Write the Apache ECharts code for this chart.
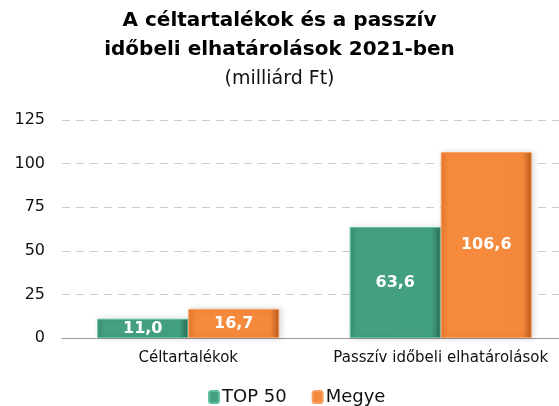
<!DOCTYPE html>
<html>
<head>
<meta charset="utf-8">
<script src="https://cdn.jsdelivr.net/npm/echarts@6/dist/echarts.min.js"></script>
<style>
html, body { margin: 0; padding: 0; background: #fff; }
#main { width: 559px; height: 406px; }
</style>
</head>
<body>
<div id="main"></div>
<script>
var categories = ['Céltartalékok', 'Passzív időbeli elhatárolások'];
var seriesNames = ['TOP 50', 'Megye'];
var top50 = [11.0, 63.6];
var megye = [16.7, 106.6];
var yTicks = [0, 25, 50, 75, 100, 125];

var font = 'DejaVu Sans';

function fmt(p) {
    return p.value.toFixed(1).replace('.', ',');
}

var chart = echarts.init(document.getElementById('main'));
var option = {
    backgroundColor: '#FFFFFF',
    title: {
        text: 'A céltartalékok és a passzív\nidőbeli elhatárolások 2021-ben',
        subtext: '(milliárd Ft)',
        left: 'center',
        top: 1,
        itemGap: 2,
        textStyle: {
            fontFamily: font,
            fontSize: 20,
            fontWeight: 'bold',
            color: '#000',
            lineHeight: 29
        },
        subtextStyle: {
            fontFamily: font,
            fontSize: 19,
            color: '#111',
            lineHeight: 26
        }
    },
    legend: {
        data: seriesNames,
        bottom: -5,
        left: 203,
        itemWidth: 10,
        itemHeight: 12,
        itemGap: 25,
        textStyle: { fontFamily: font, fontSize: 18, color: '#111', padding: [0, 0, 0, -2] }
    },
    grid: {
        left: 62,
        width: 505,
        top: 120,
        bottom: 68,
        containLabel: false,
        outerBoundsMode: 'none'
    },
    xAxis: {
        type: 'category',
        data: categories,
        axisTick: { show: false },
        axisLine: { lineStyle: { color: '#999' } },
        axisLabel: {
            interval: 0,
            hideOverlap: false,
            fontFamily: font,
            fontSize: 15,
            color: '#111',
            margin: 13
        }
    },
    yAxis: {
        type: 'value',
        min: yTicks[0],
        max: yTicks[yTicks.length - 1],
        interval: 25,
        axisLine: { show: false },
        axisTick: { show: false },
        axisLabel: { fontFamily: font, fontSize: 16, color: '#111', margin: 17 },
        splitLine: { lineStyle: { color: '#ccc', type: [8, 6] } }
    },
    series: [
        {
            name: seriesNames[0],
            type: 'bar',
            data: top50,
            barWidth: 91,
            barGap: '0%',
            itemStyle: {
                color: new echarts.graphic.LinearGradient(0, 0, 1, 0, [
                    { offset: 0, color: '#3a8f72' },
                    { offset: 0.08, color: '#45a07f' },
                    { offset: 0.9, color: '#42a07f' },
                    { offset: 1, color: '#2b6e56' }
                ]),
                borderColor: '#5fbf9c',
                borderWidth: 1,
                shadowColor: 'rgba(0,0,0,0.15)',
                shadowBlur: 6,
                shadowOffsetX: 2
            },
            label: {
                show: true,
                position: 'inside',
                formatter: fmt,
                fontFamily: font,
                fontSize: 16,
                fontWeight: 'bold',
                color: '#fff'
            }
        },
        {
            name: seriesNames[1],
            type: 'bar',
            data: megye,
            barWidth: 91,
            itemStyle: {
                color: new echarts.graphic.LinearGradient(0, 0, 1, 0, [
                    { offset: 0, color: '#e7782d' },
                    { offset: 0.08, color: '#f68a3d' },
                    { offset: 0.9, color: '#f4883b' },
                    { offset: 1, color: '#b9591c' }
                ]),
                borderColor: '#f9a060',
                borderWidth: 1,
                shadowColor: 'rgba(0,0,0,0.15)',
                shadowBlur: 6,
                shadowOffsetX: 2
            },
            label: {
                show: true,
                position: 'inside',
                formatter: fmt,
                fontFamily: font,
                fontSize: 16,
                fontWeight: 'bold',
                color: '#fff'
            }
        }
    ]
};
chart.setOption(option);
</script>
</body>
</html>
